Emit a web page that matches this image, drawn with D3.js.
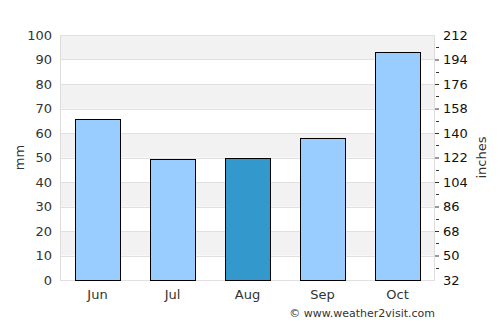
<!DOCTYPE html>
<html>
<head>
<meta charset="UTF-8">
<script src="https://d3js.org/d3.v7.min.js"></script>
<style>
  body { margin: 0; background: #fff; }
  svg text { font-family: "DejaVu Sans", sans-serif; }
</style>
</head>
<body>
<div id="chart"></div>
<script>
const months = ["Jun", "Jul", "Aug", "Sep", "Oct"];
const rainfall = [65.6, 49.3, 49.7, 58.0, 92.9];
const highlight = "Aug";
const leftTicks = [0, 10, 20, 30, 40, 50, 60, 70, 80, 90, 100];
const rightTicks = [32, 50, 68, 86, 104, 122, 140, 158, 176, 194, 212];

const W = 500, H = 325;
const margin = {top: 35, right: 65, bottom: 45, left: 60};
const width = W - margin.left - margin.right,
      height = H - margin.top - margin.bottom;

const svg = d3.select("#chart").append("svg")
  .attr("width", W).attr("height", H);
const g = svg.append("g").attr("transform", `translate(${margin.left},${margin.top})`);

const x = d3.scaleBand().domain(months).range([0, width]).paddingInner(0.4).paddingOuter(0.2);
const y = d3.scaleLinear().domain([0, 100]).range([height, 0]);
const y2 = d3.scaleLinear().domain([32, 212]).range([height, 0]);

// alternating bands
const bands = d3.range(0, 100, 10).filter(v => (v / 10) % 2 === 1);
g.selectAll(".band").data(bands).enter().append("rect")
  .attr("x", 0).attr("width", width)
  .attr("y", d => y(d + 10)).attr("height", d => y(d) - y(d + 10))
  .attr("fill", "#f2f2f2");

// grid lines
g.selectAll(".grid").data(leftTicks).enter().append("line")
  .attr("x1", 0).attr("x2", width)
  .attr("y1", d => Math.round(y(d)) + 0.5).attr("y2", d => Math.round(y(d)) + 0.5)
  .attr("stroke", "#e0e0e0");

// border
g.append("line").attr("x1", 0.5).attr("x2", 0.5).attr("y1", 0).attr("y2", height).attr("stroke", "#ddd");
g.append("line").attr("x1", width - 0.5).attr("x2", width - 0.5).attr("y1", 0).attr("y2", height).attr("stroke", "#ddd");

// bars
g.selectAll(".bar").data(months).enter().append("rect")
  .attr("x", d => Math.round(x(d)) + 0.5)
  .attr("width", Math.round(x.bandwidth()))
  .attr("y", (d, i) => Math.round(y(rainfall[i])) + 0.5)
  .attr("height", (d, i) => height - Math.round(y(rainfall[i])))
  .attr("fill", d => d === highlight ? "#3399cc" : "#99ccff")
  .attr("stroke", "#000").attr("stroke-width", 1);

// left axis
const la = g.append("g").call(d3.axisLeft(y).tickValues(leftTicks).tickSize(0).tickPadding(8));
la.select(".domain").remove();
la.selectAll("text").style("font-size", "13px").attr("fill", "#333");

// right axis
const minor = d3.range(41, 212, 18);
g.selectAll(".mtick").data(minor).enter().append("line")
  .attr("x1", width + 1).attr("x2", width + 4)
  .attr("y1", d => Math.round(y2(d)) + 0.5).attr("y2", d => Math.round(y2(d)) + 0.5)
  .attr("stroke", "#333");
const ra = g.append("g").attr("transform", `translate(${width},0)`)
  .call(d3.axisRight(y2).tickValues(rightTicks).tickSize(4).tickPadding(4));
ra.select(".domain").remove();
ra.selectAll("line").attr("stroke", "#333");
ra.selectAll(".tick").filter(d => d === 32 || d === 212).select("line").remove();
ra.selectAll("text").style("font-size", "13px").attr("fill", "#111");

// x axis
const xa = g.append("g").attr("transform", `translate(0,${height})`)
  .call(d3.axisBottom(x).tickSize(0).tickPadding(10));
xa.select(".domain").remove();
xa.selectAll("text").style("font-size", "13px").attr("fill", "#333");

// axis titles
svg.append("text").attr("transform", `translate(24,${margin.top + height / 2}) rotate(-90)`)
  .attr("text-anchor", "middle").style("font-size", "13px").attr("fill", "#333").text("mm");
svg.append("text").attr("transform", `translate(486,${margin.top + height / 2}) rotate(-90)`)
  .attr("text-anchor", "middle").style("font-size", "13px").attr("fill", "#333").text("inches");

svg.append("text").attr("x", 435).attr("y", 317).attr("text-anchor", "end")
  .style("font-size", "11px").attr("fill", "#333").text("© www.weather2visit.com");
</script>
</body>
</html>
